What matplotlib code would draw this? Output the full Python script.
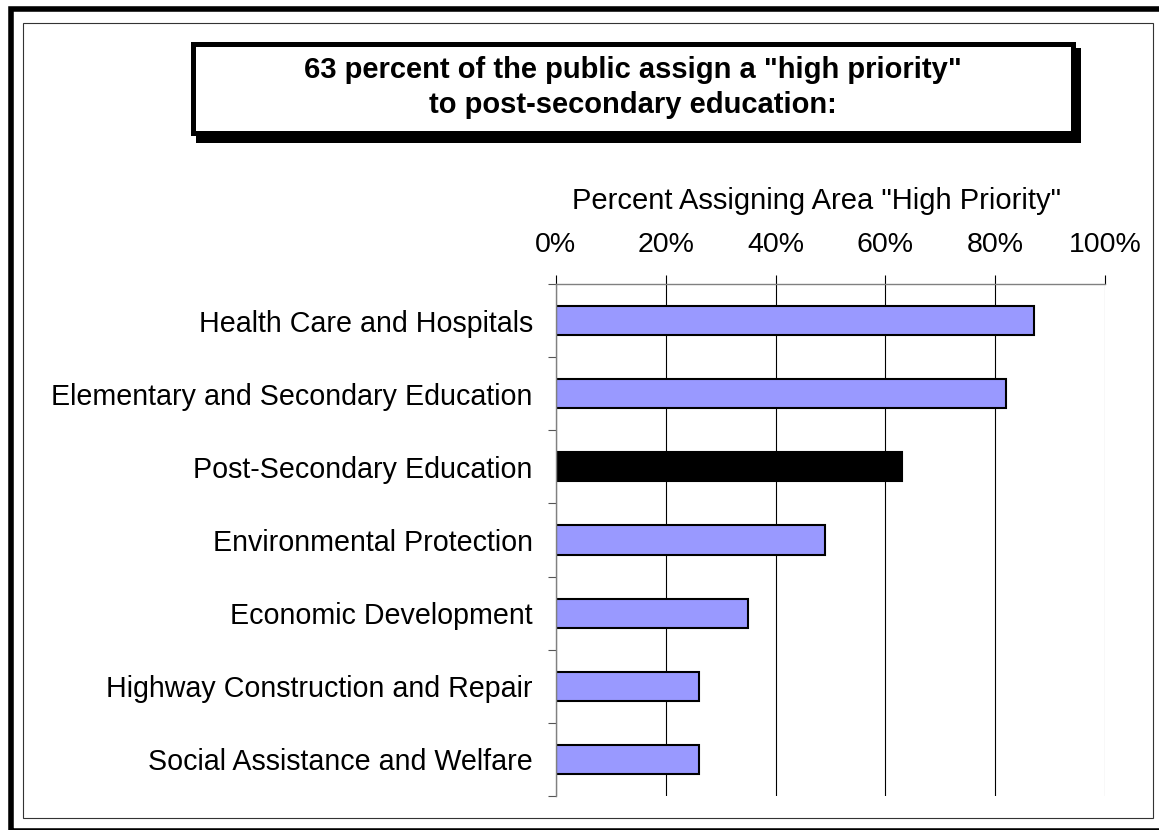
import matplotlib.pyplot as plt
from matplotlib.patches import Rectangle
import numpy as np

plt.rcParams['font.family'] = ['Liberation Sans', 'DejaVu Sans']

# Survey results: share of respondents calling each area a "high priority"
categories = ['Health Care and Hospitals',
              'Elementary and Secondary Education',
              'Post-Secondary Education',
              'Environmental Protection',
              'Economic Development',
              'Highway Construction and Repair',
              'Social Assistance and Welfare']
percents = [87, 82, 63, 49, 35, 26, 26]
highlight = 'Post-Secondary Education'
xticks = [0, 20, 40, 60, 80, 100]
title_lines = ['63 percent of the public assign a "high priority"',
               'to post-secondary education:']
axis_title = 'Percent Assigning Area "High Priority"'

W, H = 1159, 830
fig = plt.figure(figsize=(W / 100, H / 100), dpi=100)


def fx(x):
    return x / W


def fy(y):
    return 1 - y / H


def frame(x0, y0, x1, y1, **kw):
    # rectangle given in pixel coords measured from the top-left corner
    r = Rectangle((fx(x0), fy(y1)), fx(x1) - fx(x0), fy(y0) - fy(y1),
                  transform=fig.transFigure, **kw)
    fig.patches.append(r)
    return r


# page borders
frame(11, 9.5, 1175, 831, fill=False, edgecolor='black', linewidth=4)
frame(23, 23, 1153, 818, fill=False, edgecolor='#333333', linewidth=0.8)

# title box with drop shadow
frame(196, 48, 1081, 143, facecolor='black', edgecolor='none')
frame(192.5, 44.5, 1072.5, 133.5, facecolor='white', edgecolor='black', linewidth=3.6)
fig.text(fx(632.5), fy(78), title_lines[0], ha='center', va='baseline',
         fontsize=21, fontweight='bold')
fig.text(fx(632.5), fy(113), title_lines[1], ha='center', va='baseline',
         fontsize=21, fontweight='bold')

ax = fig.add_axes([fx(555.7), fy(796), fx(1105.3) - fx(555.7), fy(284) - fy(796)])

y = np.arange(len(categories))
colors = ['black' if c == highlight else '#9999ff' for c in categories]
ax.barh(y, percents, height=0.4, color=colors, edgecolor='black', linewidth=1.5)

ax.set_xlim(0, 100)
ax.set_ylim(len(categories) - 0.5, -0.5)

# x axis on top with percent labels
ax.xaxis.tick_top()
ax.xaxis.set_label_position('top')
ax.set_xticks(xticks)
ax.set_xticklabels([f'{t}%' for t in xticks])
ax.tick_params(axis='x', direction='out', length=6.5, width=0.8, color='black',
               pad=12, labelsize=20.5)
ax.set_xlabel(axis_title, fontsize=21, labelpad=17)
ax.xaxis.label.set_x(0.475)

# y ticks between categories, labels centred on the bars
ax.set_yticks(np.arange(-0.5, len(categories), 1))
ax.set_yticklabels([])
ax.set_yticks(y, minor=True)
ax.set_yticklabels(categories, minor=True)
ax.tick_params(axis='y', which='major', direction='out', length=5.8, width=0.8,
               color='#555555')
ax.tick_params(axis='y', which='minor', length=0, pad=16.5, labelsize=20.6)

ax.grid(axis='x', color='black', linewidth=0.8)
ax.get_xgridlines()[-1].set_color('#808080')
ax.set_axisbelow(True)

for side in ['bottom', 'right']:
    ax.spines[side].set_visible(False)
for side in ['top', 'left']:
    ax.spines[side].set_color('#808080')
    ax.spines[side].set_linewidth(1.0)

fig.savefig('out.png', dpi=100)
